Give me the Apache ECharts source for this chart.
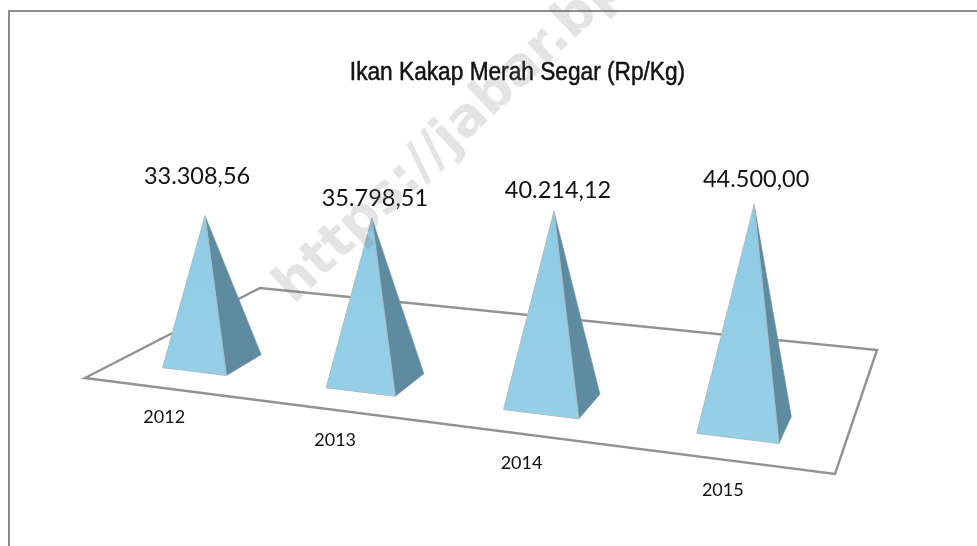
<!DOCTYPE html>
<html>
<head>
<meta charset="utf-8">
<style>html,body{margin:0;padding:0;background:#fff}#c{width:977px;height:546px}</style>
<script src="https://cdn.jsdelivr.net/npm/echarts@6/dist/echarts.min.js"></script>
</head>
<body>
<div id="c"></div>
<script>
const chartTitle = 'Ikan Kakap Merah Segar (Rp/Kg)';
const years = ['2012', '2013', '2014', '2015'];
const prices = [33308.56, 35798.51, 40214.12, 44500.00];
const priceLabels = ['33.308,56', '35.798,51', '40.214,12', '44.500,00'];
const watermark = 'https://jabar.bps.go.id';

// Perspective camera: floor (u,v in 0..1) plus height z in thousands of Rp/Kg
const cam = {a:615.6,b:233.9,c:85,d:19.7,e:-24.8,f:378,g:-0.16094,h:0.22651,p:-0.397,q:-4.69,r:-0.00078};
function project(u, v, z) {
  const w = cam.g*u + cam.h*v + cam.r*z + 1;
  return [(cam.a*u + cam.b*v + cam.p*z + cam.c)/w, (cam.d*u + cam.e*v + cam.q*z + cam.f)/w];
}
const gridBox = {left:85, top:40, width:792, height:434};
const baseHalfU = 0.05, baseV0 = 0.15, baseV1 = 0.35, apexV = 0.25;
const valueNudge = [[-8,-39],[3,-20],[4,-21],[2,-25]];
const yearNudge = [[1.5,49.5],[9,52.5],[18,54],[26,56.5]];

function renderFloor() {
  return {type:'polygon', silent:true,
    shape:{points:[project(0,0,0),project(1,0,0),project(1,1,0),project(0,1,0)]},
    style:{fill:'none', stroke:'#929292', lineWidth:2.4, lineJoin:'miter'}};
}
function renderPyramid(params, api) {
  const i = api.value(0);
  const p0 = api.coord([i, 0]), pv = api.coord([i, api.value(1)]), p1k = api.coord([i, 1000]);
  const u = (p0[0] - gridBox.left) / gridBox.width;
  const z = (p0[1] - pv[1]) / (p0[1] - p1k[1]);
  const fl = project(u-baseHalfU, baseV0, 0), fr = project(u+baseHalfU, baseV0, 0),
        br = project(u+baseHalfU, baseV1, 0), apex = project(u, apexV, z);
  return {type:'group', children:[
    {type:'polygon', shape:{points:[fr,br,apex]}, style:{fill:'#5f8ba0', stroke:'#6f97aa', lineWidth:0.6}},
    {type:'polygon', shape:{points:[fl,fr,apex]}, style:{
      fill:{type:'linear',x:0,y:0,x2:0,y2:1,colorStops:[{offset:0,color:'#8fcbe4'},{offset:1,color:'#95d0e8'}]},
      stroke:'#a9bcc6', lineWidth:1}},
    {type:'text', x:apex[0]+valueNudge[i][0], y:apex[1]+valueNudge[i][1],
      style:{text:priceLabels[i], fill:'#111', font:'23.5px Lato', align:'center', verticalAlign:'middle'}},
    {type:'text', x:fl[0]+yearNudge[i][0], y:fl[1]+yearNudge[i][1],
      style:{text:years[i], fill:'#111', font:'18px Lato', align:'center', verticalAlign:'middle'}}
  ]};
}

const chart = echarts.init(document.getElementById('c'), null, {renderer:'canvas'});
chart.setOption({
  animation:false,
  backgroundColor:'#fff',
  grid:gridBox,
  xAxis:{type:'category', data:years, show:false},
  yAxis:{type:'value', min:0, max:50000, show:false},
  graphic:[
    {type:'rect', z:0, shape:{x:9,y:11,width:1100,height:700}, style:{fill:'none',stroke:'#8c8c8c',lineWidth:2}},
    {type:'text', z:50, x:517.5, y:73, scaleX:0.907, silent:true,
      style:{text:chartTitle, fill:'#111', stroke:'#111', lineWidth:0.5, font:'25px "Liberation Sans"', align:'center', verticalAlign:'middle'}},
    {type:'text', z:100, x:284, y:295, rotation:Math.PI*43.5/180, silent:true,
      style:{text:watermark, fill:'rgba(120,120,120,0.2)', font:'bold 53px "DejaVu Sans"', align:'left', verticalAlign:'middle'}}
  ],
  series:[
    {type:'custom', name:'floor', coordinateSystem:'cartesian2d', clip:false, z:1, renderItem:renderFloor, data:[[0,0]], encode:{x:0,y:1}},
    {type:'custom', name:chartTitle, coordinateSystem:'cartesian2d', clip:false, z:2, renderItem:renderPyramid,
      data:prices.map((v,i)=>[i,v]), encode:{x:0,y:1}}
  ]
});
</script>
</body>
</html>
